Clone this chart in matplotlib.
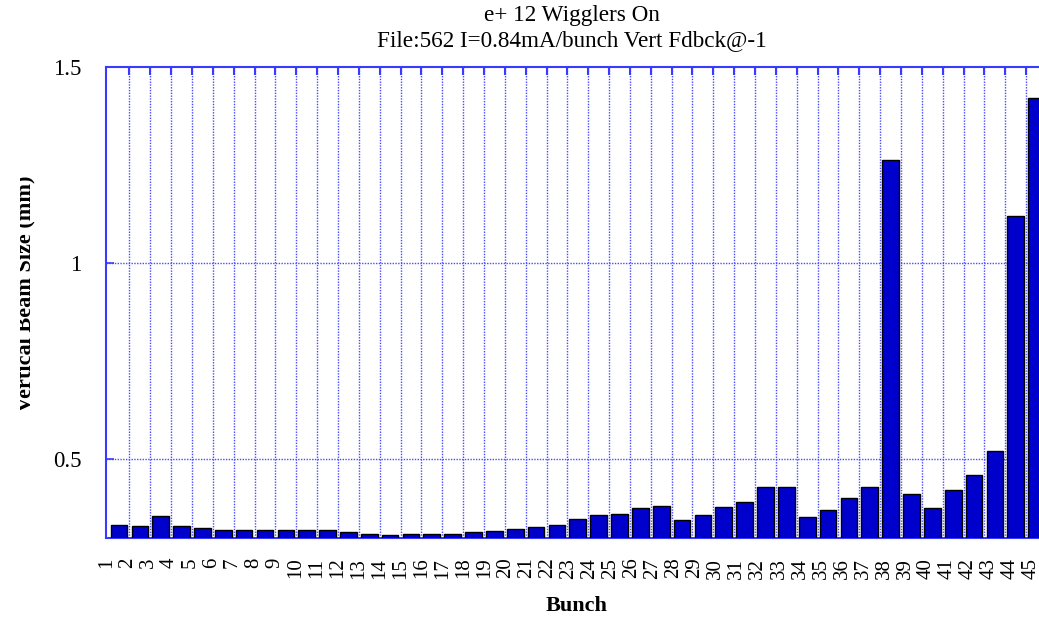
import matplotlib
matplotlib.use("Agg")
import matplotlib.pyplot as plt
from matplotlib.patches import Rectangle
import numpy as np

bunches = [str(i) for i in range(1, 46)]
beam_size = [0.333, 0.330, 0.354, 0.330, 0.323, 0.320, 0.320, 0.320, 0.320, 0.320,
             0.320, 0.314, 0.310, 0.306, 0.308, 0.310, 0.310, 0.314, 0.317, 0.321,
             0.327, 0.333, 0.348, 0.357, 0.360, 0.374, 0.380, 0.344, 0.357, 0.377,
             0.390, 0.429, 0.429, 0.353, 0.370, 0.402, 0.428, 1.263, 0.411, 0.374,
             0.420, 0.460, 0.520, 1.120, 1.420]
y_ticks = [0.5, 1.0, 1.5]
y_tick_labels = ["0.5", "1", "1.5"]
title_lines = ["e+ 12 Wigglers On", "File:562 I=0.84mA/bunch Vert Fdbck@-1"]

W, H = 1039, 620
fig = plt.figure(figsize=(W / 100, H / 100), dpi=100)
plt.rcParams['font.family'] = ['Liberation Serif', 'DejaVu Serif']

L, R, T, B = 106.3, 1047, 67, 537.5
ax = fig.add_axes([L / W, 1 - B / H, (R - L) / W, (B - T) / H])

x = np.arange(1, len(bunches) + 1)
ax.bar(x, beam_size, width=0.8, color='#0000CC', edgecolor='black', linewidth=1.0, zorder=3)

ax.set_xlim(0.5, len(bunches) + 0.5)
ax.set_ylim(0.3, 1.5)

grid_col = '#4a4aff'
axis_col = '#3a3aff'
ax.set_yticks(y_ticks)
ax.set_yticklabels(y_tick_labels, fontsize=16.5)

# tick-label placement (labels sit slightly left of the bar centres, as in the original)
label_pos = x - 0.61 + 0.008 * (x - 1)
ax.set_xticks(label_pos)
ax.set_xticklabels(bunches, rotation=90, fontsize=15, va='top')
ax.set_xticks(np.arange(1.5, len(bunches) + 0.6, 1.0), minor=True)

ax.tick_params(axis='x', which='major', length=0, pad=14.5)
ax.tick_params(axis='x', which='minor', top=True, bottom=False, direction='in',
               length=6, width=1.5, color=axis_col)
ax.tick_params(axis='y', which='major', direction='in', length=6, width=1.2,
               color=axis_col, pad=18)

for xv in np.arange(1.5, len(bunches) + 0.6, 1.0):
    ax.axvline(xv, color=grid_col, linestyle=(0, (1, 1)), linewidth=1.0, zorder=1)
for yv in y_ticks[:2]:
    ax.axhline(yv, color=grid_col, linestyle=(0, (1, 1)), linewidth=1.0, zorder=1)

for s in ['left', 'top', 'bottom', 'right']:
    ax.spines[s].set_color(axis_col)
    ax.spines[s].set_linewidth(1.5)

fig.text(572 / W, 1 - 16 / H, title_lines[0], ha='center', va='center', fontsize=16.7)
fig.text(572 / W, 1 - 41 / H, title_lines[1], ha='center', va='center', fontsize=16.7)

ax.set_xlabel("Bunch", fontsize=16, fontweight='bold')
ax.xaxis.set_label_coords(0.5, -(606 - B) / (B - T), transform=ax.transAxes)
ax.xaxis.label.set_va('center')

fig.text(25 / W, 1 - 293.5 / H, "Vertical Beam Size (mm)", rotation=90,
         ha='center', va='center', fontsize=16, fontweight='bold', zorder=3)
fig.patches.append(Rectangle((0, 0), 20 / W, 1, transform=fig.transFigure,
                             facecolor='white', edgecolor='none', zorder=10))

fig.savefig("out.png", dpi=100)
